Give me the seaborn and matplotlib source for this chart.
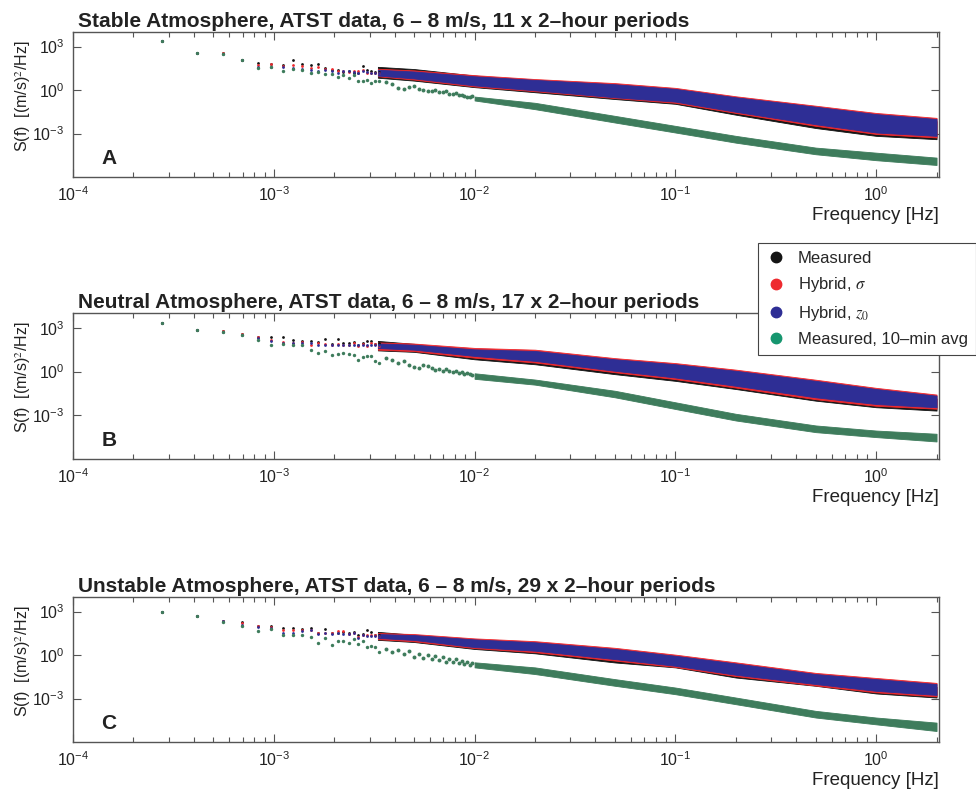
import numpy as np
import pandas as pd
import seaborn as sns
import matplotlib.pyplot as plt
from matplotlib.lines import Line2D
from matplotlib.ticker import LogLocator, NullLocator, LogFormatterMathtext

# harmonic frequencies of the 2-hour record [Hz]
freq_low = [2.778e-4, 4.167e-4, 5.556e-4, 6.944e-4, 8.333e-4, 9.722e-4, 1.111e-3,
            1.250e-3, 1.389e-3, 1.528e-3, 1.667e-3, 1.806e-3, 1.944e-3, 2.083e-3,
            2.222e-3, 2.361e-3, 2.500e-3, 2.639e-3, 2.778e-3, 2.917e-3, 3.056e-3,
            3.194e-3, 3.333e-3]
# every second harmonic where the 10-min avg spectrum still shows as single dots
freq_avg_mid = [3.611e-3, 3.889e-3, 4.167e-3, 4.444e-3, 4.722e-3, 5.0e-3, 5.278e-3,
                5.556e-3, 5.833e-3, 6.111e-3, 6.389e-3, 6.667e-3, 6.944e-3, 7.222e-3,
                7.5e-3, 7.778e-3, 8.056e-3, 8.333e-3, 8.611e-3, 8.889e-3, 9.167e-3,
                9.444e-3, 9.722e-3]
# above these the points are so dense they show as a band (lower / upper edge)
freq_band = [3.3e-3, 5e-3, 1e-2, 2e-2, 5e-2, 0.1, 0.2, 0.5, 1.0, 2.0]
freq_avg_band = [1e-2, 2e-2, 5e-2, 0.1, 0.2, 0.5, 1.0, 2.0]

# values, log10 of S(f) in (m/s)^2/Hz
# --- stable
stable_meas = [3.39, 2.58, 2.54, 2.08, 1.85, 1.8, 1.7, 2.05, 1.8, 1.71, 1.82, 1.52,
               1.41, 1.38, 1.25, 1.29, 1.2, 1.15, 1.68, 1.38, 1.29, 1.22, 1.22]
stable_sigma = [3.39, 2.58, 2.54, 2.08, 1.75, 1.8, 1.66, 1.71, 1.66, 1.52, 1.57, 1.48,
                1.43, 1.29, 1.29, 1.25, 1.29, 1.34, 1.38, 1.2, 1.15, 1.2, 1.15]
stable_z0 = [3.39, 2.58, 2.49, 2.08, 1.57, 1.61, 1.61, 1.52, 1.45, 1.36, 1.34, 1.38,
             1.34, 1.2, 1.31, 1.34, 1.25, 1.2, 1.29, 1.25, 1.2, 1.18, 1.15]
stable_avg = [3.39, 2.58, 2.47, 2.08, 1.52, 1.57, 1.34, 1.43, 1.38, 1.15, 1.22, 1.11,
              1.11, 0.88, 1.06, 0.81, 1.04, 0.6, 0.6, 0.69, 0.48, 0.6, 0.65]
stable_avg_mid = [0.53, 0.42, 0.14, 0.07, 0.18, 0.3, 0.05, 0.0, -0.05, -0.09, 0.0,
                  -0.15, -0.12, -0.09, -0.28, -0.25, -0.22, -0.32, -0.36, -0.39,
                  -0.45, -0.5, -0.42]
stable_meas_lo = [0.85, 0.65, 0.2, -0.15, -0.62, -0.95, -1.7, -2.62, -3.16, -3.39]
stable_meas_hi = [1.6, 1.45, 1.0, 0.6, 0.3, -0.05, -0.6, -1.4, -1.9, -2.15]
stable_sigma_lo = [0.95, 0.72, 0.25, -0.08, -0.55, -0.88, -1.58, -2.47, -3.03, -3.27]
stable_sigma_hi = [1.47, 1.36, 1.03, 0.76, 0.48, 0.15, -0.43, -1.08, -1.58, -1.92]
stable_z0_lo = [1.0, 0.8, 0.32, -0.02, -0.5, -0.8, -1.5, -2.36, -2.93, -3.16]
stable_z0_hi = [1.4, 1.28, 0.95, 0.7, 0.4, 0.08, -0.5, -1.15, -1.66, -2.0]
stable_avg_lo = [-0.72, -1.32, -2.24, -2.93, -3.63, -4.43, -4.84, -5.17]
stable_avg_hi = [-0.45, -0.88, -1.78, -2.47, -3.16, -3.97, -4.32, -4.66]

# --- neutral
neutral_meas = [3.3, 2.86, 2.8, 2.57, 2.39, 2.34, 2.34, 2.16, 2.11, 2.07, 2.02, 2.25,
                1.89, 2.25, 1.93, 1.93, 2.02, 1.84, 1.93, 2.07, 2.11, 1.89, 1.93]
neutral_sigma = [3.3, 2.86, 2.78, 2.57, 2.39, 2.16, 2.02, 1.95, 2.0, 1.84, 1.98, 1.89,
                 1.84, 1.89, 1.84, 1.84, 1.93, 1.75, 1.89, 1.75, 1.93, 1.89, 1.75]
neutral_z0 = [3.3, 2.86, 2.72, 2.5, 2.3, 2.11, 1.93, 1.93, 1.98, 1.93, 1.84, 1.8,
              1.8, 1.8, 1.8, 1.84, 1.84, 1.84, 1.82, 1.8, 1.84, 1.8, 1.8]
neutral_avg = [3.3, 2.86, 2.7, 2.48, 2.16, 1.8, 1.89, 1.84, 1.8, 1.48, 1.25, 1.4,
               1.11, 1.2, 1.3, 1.2, 1.11, 0.82, 1.02, 1.05, 1.05, 0.7, 0.57]
neutral_avg_mid = [0.9, 0.82, 0.6, 0.7, 0.48, 0.3, 0.25, 0.48, 0.4, 0.22, 0.12, 0.18,
                   0.05, 0.15, 0.02, -0.05, 0.05, -0.09, 0.0, -0.15, -0.12, -0.2, -0.25]
neutral_meas_lo = [1.45, 1.35, 0.84, 0.5, -0.18, -0.64, -1.2, -2.0, -2.45, -2.68]
neutral_meas_hi = [2.1, 1.9, 1.4, 1.2, 0.6, 0.25, -0.2, -0.9, -1.45, -1.85]
neutral_sigma_lo = [1.5, 1.4, 0.95, 0.62, -0.05, -0.52, -1.1, -1.9, -2.35, -2.55]
neutral_sigma_hi = [2.0, 1.92, 1.62, 1.5, 0.92, 0.58, 0.13, -0.56, -1.12, -1.58]
neutral_z0_lo = [1.61, 1.5, 1.07, 0.73, 0.05, -0.41, -0.98, -1.77, -2.23, -2.45]
neutral_z0_hi = [1.93, 1.84, 1.52, 1.41, 0.84, 0.5, 0.05, -0.64, -1.2, -1.66]
neutral_avg_lo = [-0.5, -0.9, -1.77, -2.57, -3.36, -4.16, -4.5, -4.8]
neutral_avg_hi = [-0.12, -0.55, -1.32, -2.11, -2.9, -3.7, -4.05, -4.27]

# --- unstable
unstable_meas = [3.0, 2.7, 2.38, 2.31, 2.0, 2.0, 1.87, 1.89, 1.82, 1.87, 1.5, 1.78,
                 1.5, 1.55, 1.59, 1.5, 1.59, 1.36, 1.45, 1.73, 1.59, 1.36, 1.36]
unstable_sigma = [3.0, 2.7, 2.38, 2.2, 2.0, 1.96, 1.7, 1.73, 1.73, 1.73, 1.55, 1.55,
                  1.5, 1.64, 1.64, 1.45, 1.55, 1.27, 1.36, 1.36, 1.36, 1.36, 1.31]
unstable_z0 = [3.0, 2.7, 2.32, 2.1, 1.91, 1.87, 1.55, 1.55, 1.64, 1.73, 1.45, 1.5,
               1.45, 1.5, 1.45, 1.45, 1.5, 1.18, 1.36, 1.31, 1.31, 1.31, 1.31]
unstable_avg = [3.0, 2.7, 2.28, 2.0, 1.64, 1.78, 1.36, 1.41, 1.36, 1.27, 0.85, 1.2,
                0.72, 0.95, 0.99, 0.85, 1.08, 0.76, 0.99, 0.58, 0.62, 0.58, 0.23]
unstable_avg_mid = [0.42, 0.2, 0.35, 0.05, 0.3, -0.16, 0.1, -0.2, 0.02, -0.25, -0.09,
                    -0.35, -0.12, -0.46, -0.25, -0.5, -0.3, -0.55, -0.42, -0.62, -0.48,
                    -0.7, -0.55]
unstable_meas_lo = [1.05, 0.9, 0.42, 0.12, -0.51, -0.85, -1.55, -2.12, -2.65, -2.93]
unstable_meas_hi = [1.6, 1.4, 1.0, 0.7, 0.2, -0.25, -0.8, -1.5, -1.9, -2.2]
unstable_sigma_lo = [1.1, 0.95, 0.48, 0.2, -0.38, -0.82, -1.45, -2.1, -2.57, -2.85]
unstable_sigma_hi = [1.52, 1.45, 1.15, 0.96, 0.5, 0.03, -0.5, -1.23, -1.58, -1.92]
unstable_z0_lo = [1.18, 1.04, 0.55, 0.3, -0.28, -0.74, -1.36, -2.0, -2.47, -2.75]
unstable_z0_hi = [1.45, 1.38, 1.08, 0.88, 0.42, -0.05, -0.58, -1.31, -1.66, -2.0]
unstable_avg_lo = [-0.85, -1.31, -2.12, -2.7, -3.39, -4.31, -4.78, -5.24]
unstable_avg_hi = [-0.5, -0.85, -1.66, -2.24, -2.93, -3.85, -4.31, -4.66]

titles = ["Stable Atmosphere, ATST data, 6 \u2013 8 m/s, 11 x 2\u2013hour periods",
          "Neutral Atmosphere, ATST data, 6 \u2013 8 m/s, 17 x 2\u2013hour periods",
          "Unstable Atmosphere, ATST data, 6 \u2013 8 m/s, 29 x 2\u2013hour periods"]
letters = ["A", "B", "C"]
series_names = ["Measured", r"Hybrid, $\sigma$", r"Hybrid, $\mathit{z_0}$",
                "Measured, 10\u2013min avg"]

sns.set_style("ticks")
plt.rcParams['font.family'] = ['Liberation Sans', 'DejaVu Sans']
plt.rcParams['mathtext.fontset'] = 'stix'
plt.rcParams['axes.edgecolor'] = '#555555'
plt.rcParams['axes.linewidth'] = 1.0

c_meas = '#141414'
c_sigma = '#ee2a2f'
c_z0 = '#2e2e95'
c_avg = '#3e7c5c'
c_avg_legend = '#16966f'

panels = [
    dict(low=[stable_meas, stable_sigma, stable_z0, stable_avg], mid=stable_avg_mid,
         band=[(stable_meas_lo, stable_meas_hi), (stable_sigma_lo, stable_sigma_hi),
               (stable_z0_lo, stable_z0_hi)],
         avg_band=(stable_avg_lo, stable_avg_hi)),
    dict(low=[neutral_meas, neutral_sigma, neutral_z0, neutral_avg], mid=neutral_avg_mid,
         band=[(neutral_meas_lo, neutral_meas_hi), (neutral_sigma_lo, neutral_sigma_hi),
               (neutral_z0_lo, neutral_z0_hi)],
         avg_band=(neutral_avg_lo, neutral_avg_hi)),
    dict(low=[unstable_meas, unstable_sigma, unstable_z0, unstable_avg],
         mid=unstable_avg_mid,
         band=[(unstable_meas_lo, unstable_meas_hi), (unstable_sigma_lo, unstable_sigma_hi),
               (unstable_z0_lo, unstable_z0_hi)],
         avg_band=(unstable_avg_lo, unstable_avg_hi)),
]

fig = plt.figure(figsize=(9.76, 7.92), dpi=100)
ax_boxes = [[0.0748, 0.7765, 0.887, 0.183],
            [0.0748, 0.4205, 0.887, 0.184],
            [0.0748, 0.0631, 0.887, 0.183]]

colors = [c_meas, c_sigma, c_z0, c_avg]
sizes = [4, 4, 4, 6]
fb = np.array(freq_band)
fa = np.array(freq_avg_band)

for i, p in enumerate(panels):
    ax = fig.add_axes(ax_boxes[i])
    # dense part as bands, measured first so it peeks out underneath
    for (lo, hi), col in zip(p['band'], colors):
        ax.fill_between(fb, 10 ** np.array(lo), 10 ** np.array(hi),
                        color=col, linewidth=0.6, edgecolor=col)
    lo, hi = p['avg_band']
    ax.fill_between(fa, 10 ** np.array(lo), 10 ** np.array(hi),
                    color=c_avg, linewidth=0.6, edgecolor=c_avg)
    # discrete low-frequency harmonics
    for vals, col, s in zip(p['low'], colors, sizes):
        df = pd.DataFrame({'f': freq_low, 'S': 10 ** np.array(vals)})
        sns.scatterplot(data=df, x='f', y='S', color=col, s=s, linewidth=0,
                        marker='o', ax=ax, legend=False)
    df = pd.DataFrame({'f': freq_avg_mid, 'S': 10 ** np.array(p['mid'])})
    sns.scatterplot(data=df, x='f', y='S', color=c_avg, s=8, linewidth=0,
                    marker='o', ax=ax, legend=False)

    ax.set_xscale('log')
    ax.set_yscale('log')
    ax.set_xlim(1e-4, 2.05)
    ax.set_ylim(1e-6, 1e4)
    ax.set_xticks([1e-4, 1e-3, 1e-2, 1e-1, 1e0])
    ax.xaxis.set_minor_locator(LogLocator(base=10, subs=np.arange(2, 10), numticks=20))
    ax.set_yticks([1e-3, 1e0, 1e3])
    ax.yaxis.set_minor_locator(NullLocator())
    ax.xaxis.set_major_formatter(LogFormatterMathtext())
    ax.yaxis.set_major_formatter(LogFormatterMathtext())
    ax.tick_params(which='both', direction='in', top=True, right=True,
                   labelsize=11.5, colors='#222222', pad=6)
    ax.tick_params(which='major', length=6, width=0.8, color='#555555')
    ax.tick_params(which='minor', length=3.5, width=0.8, color='#555555')
    ax.set_xlabel('Frequency [Hz]', loc='right', fontsize=13.5, labelpad=2,
                  color='#222222')
    ax.set_ylabel(r'S(f)  [(m/s)$^{2}$/Hz]', fontsize=11.5, color='#222222')
    ax.yaxis.set_label_coords(-0.046, 0.56)
    t = ax.set_title(titles[i], loc='left', fontsize=15, fontweight='bold',
                     color='#222222', pad=4)
    t.set_x(0.006)
    ax.text(0.033, 0.09, letters[i], transform=ax.transAxes, fontsize=15,
            fontweight='bold', color='#222222')

handles = [Line2D([], [], marker='o', linestyle='', markersize=7.5, color=c)
           for c in [c_meas, c_sigma, c_z0, c_avg_legend]]
leg = fig.legend(handles, series_names, loc='upper left',
                 bbox_to_anchor=(0.7766, 0.6932), fontsize=12,
                 frameon=True, fancybox=False, framealpha=1, edgecolor='#444444',
                 handletextpad=0.7, labelspacing=0.55, borderpad=0.5,
                 handlelength=1.2, borderaxespad=0)
leg.get_frame().set_linewidth(0.8)

fig.savefig('out.png', dpi=100)
